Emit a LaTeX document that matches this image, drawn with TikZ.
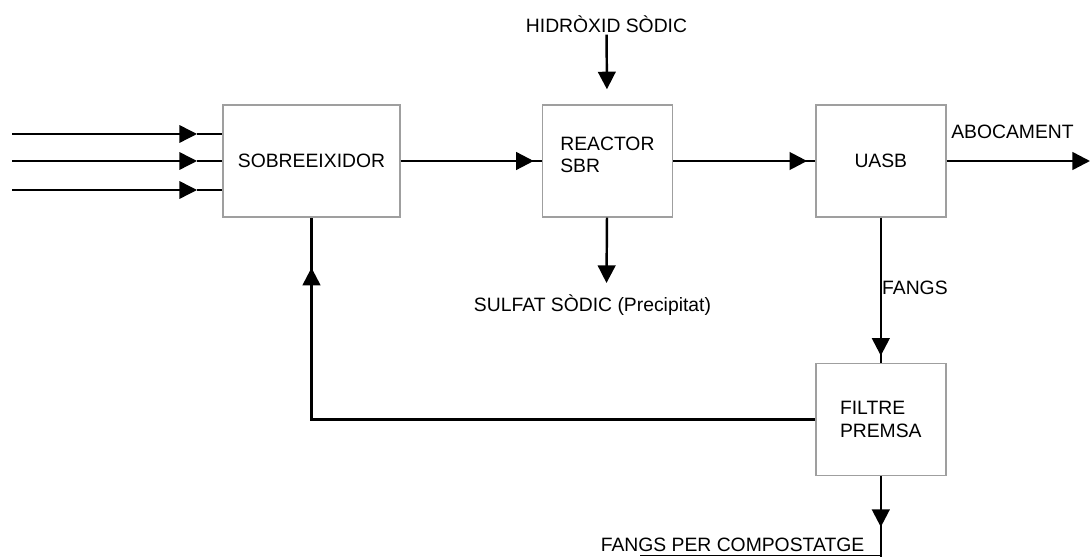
\documentclass[tikz,border=0pt]{standalone}
\usepackage{fontspec}
\setmainfont{Liberation Sans}
\usetikzlibrary{positioning, arrows.meta, decorations.markings}

\begin{document}
\begin{tikzpicture}[
  font=\fontsize{11}{13}\selectfont,
  node distance=2.82cm,
  unit/.style={draw=gray!75, line width=0.8pt, minimum width=2.6cm,
    minimum height=2.24cm, align=left},
  tag/.style={inner sep=1pt},
  arrow/.style={-{Triangle[length=10pt, width=10pt]}, line width=1.4pt},
  thinarrow/.style={-{Triangle[length=10pt, width=10pt]}, line width=0.8pt},
  midarrow/.style={line width=1.4pt, postaction={decorate},
    decoration={markings, mark=at position -#1 with
      {\arrow{Triangle[length=10pt, width=10pt]}}}},
  link/.style={line width=1.4pt},
]
  \useasboundingbox (0,0) rectangle (21.82,11.14);

  % Process units
  \node[unit, minimum width=3.54cm] (sob) at (6.23,7.92) {SOBREEIXIDOR};
  \node[unit, right=of sob, text depth=0.25cm] (sbr) {REACTOR\\SBR};
  \node[unit, right=2.84cm of sbr] (uasb) {UASB};
  \node[unit, below=2.9cm of uasb] (filtre) {FILTRE\\PREMSA};

  % Inputs to the overflow
  \foreach \y [count=\i] in {8.46, 7.92, 7.34} {
    \coordinate (in\i) at (0.24,\y);
    \coordinate (tip\i) at (3.94,\y);
    \draw[thinarrow] (in\i) -- (tip\i);
    \draw[link] (tip\i) -- (tip\i -| sob.west);
  }

  % Main line
  \draw[midarrow=0.16cm] (sob) -- (sbr);
  \draw[midarrow=0.16cm] (sbr) -- (uasb);
  \coordinate (out) at (21.8,7.92);
  \draw[arrow] (uasb) -- (out);
  \node[tag] (abocament) at (20.25,8.50) {ABOCAMENT};

  % Reagent and precipitate
  \node[tag] (hidroxid) at (12.13,10.66) {HIDRÒXID SÒDIC};
  \draw[arrow, shorten >=0.3cm] (hidroxid) -- (sbr);
  \coordinate (sulfatin) at (12.13,5.48);
  \draw[arrow] (sbr) -- (sulfatin);
  \node[tag] (sulfat) at (11.85,5.04) {SULFAT SÒDIC (Precipitat)};

  % Sludge line
  \draw[midarrow=0.14cm] (uasb) -- (filtre);
  \node[tag, anchor=west] (fangs) at (17.60,5.38) {FANGS};
  \draw[midarrow=1.0cm] (filtre.west) -| (sob.south);
  \coordinate (compend) at (filtre.south |- 0,0);
  \draw[midarrow=0.6cm] (filtre) -- (compend);
  \coordinate (underl) at (12.8,0.03);
  \draw[line width=0.7pt] (underl) -- (underl -| compend);
  \node[tag] (compost) at (14.65,0.24) {FANGS PER COMPOSTATGE};
\end{tikzpicture}
\end{document}
